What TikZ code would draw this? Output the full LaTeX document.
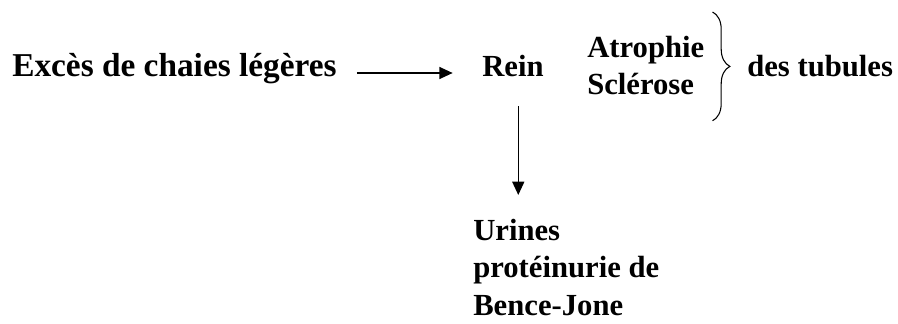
\documentclass[tikz,border=0pt]{standalone}
\usepackage{fontspec}
\setmainfont{Liberation Serif}
\usetikzlibrary{positioning, arrows.meta, decorations.pathreplacing}

\begin{document}
\begin{tikzpicture}[
			x=0.75pt, y=-0.75pt,
			txt/.style={inner sep=0pt, font=\fontsize{23}{28}\selectfont\bfseries, align=left},
			arrow/.style={-{Triangle[length=10pt, width=9pt]}, line width=1.1pt},
			brace/.style={decorate, decoration={brace, amplitude=13pt}, line width=0.8pt}
			]
			\useasboundingbox (0,0) rectangle (898,324);
			
			% Nodes
			\node[txt, font=\fontsize{25}{28}\selectfont\bfseries, anchor=base west] (exces) at (12,77) {Excès de chaies légères};
			\node[txt, anchor=base west] (rein) at (482,77) {Rein};
			\node[txt, anchor=north west] (atroph) at (587,36) {Atrophie\\Sclérose};
			\node[txt, anchor=base west] (tubules) at (747,77) {des tubules};
			\node[txt, font=\fontsize{23}{28}\selectfont\bfseries, anchor=north west] (urines) at (473,219) {Urines\\protéinurie de\\Bence-Jone};
			
			% Arrows
			\draw[arrow] ([xshift=15pt, yshift=3pt]exces.base east) -- ([xshift=-22pt, yshift=3pt]rein.base west);
			\coordinate (down) at ([xshift=4pt, yshift=-22pt]rein.base);
			\draw[arrow, shorten >=18pt] (down) -- (down |- urines.north);
			
			% Brace
			\draw[brace] ([xshift=6pt, yshift=18pt]atroph.north east) -- ([xshift=6pt, yshift=-19pt]atroph.south east);
			
		\end{tikzpicture}
\end{document}
